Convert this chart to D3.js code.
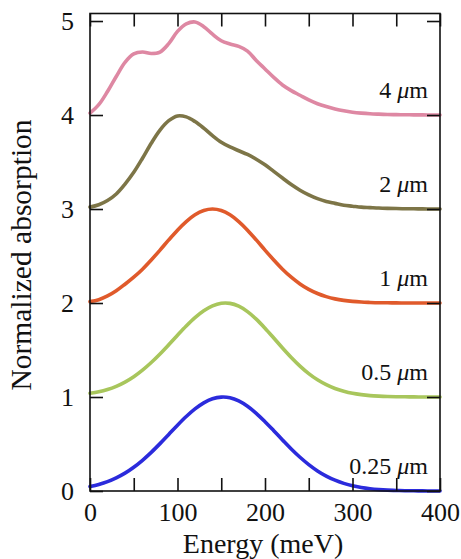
<!DOCTYPE html>
<html>
<head>
<meta charset="utf-8">
<script src="https://cdn.jsdelivr.net/npm/d3@7"></script>
<style>
  html, body { margin: 0; padding: 0; background: #fff; }
  svg { display: block; }
</style>
</head>
<body>
<svg id="chart" width="461" height="559"></svg>
<script>
// Photon energy grid (meV)
const energy = d3.range(0, 401, 10);

// Normalized absorption spectra for each thickness (before vertical offset)
const abs025 = [0.047,0.070,0.100,0.140,0.190,0.253,0.327,0.411,0.504,0.602,0.700,0.792,0.873,0.938,0.981,0.999,0.992,0.958,0.901,0.826,0.737,0.641,0.543,0.447,0.359,0.281,0.214,0.159,0.115,0.081,0.055,0.037,0.024,0.015,0.009,0.006,0.003,0.002,0.001,0.0,0.0];
const abs05  = [0.040,0.056,0.080,0.114,0.159,0.216,0.286,0.367,0.458,0.556,0.657,0.755,0.844,0.917,0.969,0.997,0.996,0.966,0.908,0.828,0.732,0.628,0.522,0.421,0.329,0.249,0.183,0.131,0.090,0.061,0.039,0.025,0.015,0.009,0.005,0.003,0.002,0.001,0.0,0.0,0.0];
const abs1   = [0.015,0.035,0.075,0.130,0.200,0.275,0.360,0.458,0.563,0.671,0.775,0.866,0.938,0.984,1.000,0.984,0.938,0.866,0.775,0.671,0.563,0.458,0.360,0.275,0.203,0.145,0.101,0.068,0.044,0.028,0.017,0.010,0.006,0.003,0.002,0.001,0.0,0.0,0.0,0.0,0.0];
const abs2   = [0.020,0.045,0.090,0.160,0.265,0.390,0.540,0.700,0.840,0.940,0.990,0.980,0.930,0.860,0.780,0.710,0.660,0.620,0.580,0.530,0.470,0.400,0.330,0.260,0.200,0.150,0.110,0.080,0.060,0.040,0.030,0.020,0.015,0.010,0.007,0.005,0.003,0.002,0.001,0.0,0.0];
const abs4   = [0.020,0.110,0.250,0.410,0.560,0.650,0.670,0.655,0.670,0.760,0.890,0.970,0.990,0.940,0.860,0.790,0.755,0.730,0.680,0.580,0.490,0.400,0.320,0.260,0.210,0.160,0.120,0.090,0.065,0.045,0.030,0.020,0.013,0.009,0.006,0.004,0.003,0.002,0.001,0.0,0.0];

const thicknessLabels = ["0.25", "0.5", "1", "2", "4"];
const offsets = [0, 1, 2, 3, 4];
const colors = ["#2b2bdc", "#a8c65c", "#e05a2b", "#7d7547", "#de88a3"];
const spectra = [abs025, abs05, abs1, abs2, abs4];

const xTicks = d3.range(0, 401, 50);
const yTicks = [0, 1, 2, 3, 4, 5];

const serif = "'Liberation Serif', 'DejaVu Serif', serif";

const svg = d3.select("#chart");
const plotLeft = 90, plotRight = 440, plotTop = 13.5, plotBottom = 491;

const x = d3.scaleLinear().domain([0, 400]).range([plotLeft, plotRight]);
const y = d3.scaleLinear().domain([0, 5.08]).range([plotBottom, plotTop]);

// Spectra, each shifted up by its offset
const line = d3.line()
  .x(d => x(d[0]))
  .y(d => y(d[1]))
  .curve(d3.curveCatmullRom.alpha(0.5));

spectra.forEach((vals, i) => {
  const pts = energy.map((e, j) => [e, vals[j] + offsets[i]]);
  svg.append("path")
    .attr("d", line(pts))
    .attr("fill", "none")
    .attr("stroke", colors[i])
    .attr("stroke-width", 3.6)
    .attr("stroke-linecap", "round");
});

// Thickness labels on the right of each spectrum
thicknessLabels.forEach((lab, i) => {
  const t = svg.append("text")
    .attr("x", 428)
    .attr("y", y(offsets[i]) - 17)
    .attr("text-anchor", "end")
    .style("font-family", serif)
    .style("font-size", "24px")
    .style("fill", "#111");
  t.append("tspan").text(lab + " ");
  t.append("tspan").style("font-style", "italic").text("\u03bc");
  t.append("tspan").text("m");
});

// Axes with inward ticks
const tickLen = 13;
const bottomAxis = d3.axisBottom(x).tickValues(xTicks).tickSizeInner(-tickLen).tickSizeOuter(0).tickPadding(12)
  .tickFormat(d => d % 100 === 0 ? d : "");
const topAxis = d3.axisTop(x).tickValues(xTicks).tickSizeInner(-tickLen).tickSizeOuter(0).tickFormat("");
const leftAxis = d3.axisLeft(y).tickValues(yTicks).tickSizeInner(-tickLen).tickSizeOuter(0).tickPadding(16)
  .tickFormat(d3.format("d"));
const rightAxis = d3.axisRight(y).tickValues(yTicks).tickSizeInner(-tickLen).tickSizeOuter(0).tickFormat("");

function styleAxis(g) {
  g.attr("font-family", null).attr("font-size", null);
  g.select(".domain").remove();
  g.selectAll(".tick line").attr("stroke", "#111").attr("stroke-width", 1.6);
  g.selectAll(".tick text")
    .style("font-family", serif)
    .style("font-size", "26px")
    .style("fill", "#111");
}

svg.append("g").attr("transform", `translate(0,${plotBottom})`).call(bottomAxis).call(styleAxis);
svg.append("g").attr("transform", `translate(0,${plotTop})`).call(topAxis).call(styleAxis);
svg.append("g").attr("transform", `translate(${plotLeft},0)`).call(leftAxis).call(styleAxis);
svg.append("g").attr("transform", `translate(${plotRight},0)`).call(rightAxis).call(styleAxis);

// Plot frame
svg.append("rect")
  .attr("x", plotLeft).attr("y", plotTop)
  .attr("width", plotRight - plotLeft).attr("height", plotBottom - plotTop)
  .attr("fill", "none").attr("stroke", "#111").attr("stroke-width", 1.6);

// Axis titles
svg.append("text")
  .attr("x", 263).attr("y", 553)
  .attr("text-anchor", "middle")
  .style("font-family", serif)
  .style("font-size", "28px")
  .style("fill", "#111")
  .text("Energy (meV)");

svg.append("text")
  .attr("transform", "translate(31,255) rotate(-90)")
  .attr("text-anchor", "middle")
  .style("font-family", serif)
  .style("font-size", "29.5px")
  .style("fill", "#111")
  .text("Normalized absorption");
</script>
</body>
</html>
